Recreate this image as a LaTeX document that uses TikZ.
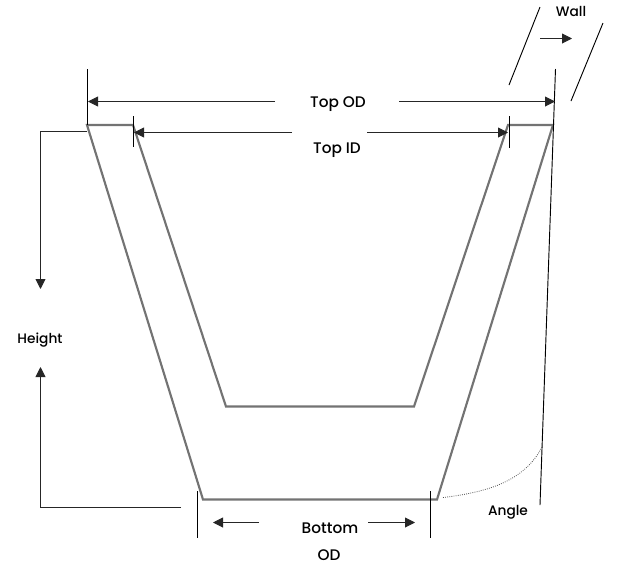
\documentclass[tikz,border=0pt]{standalone}
\usepackage{fontspec}
\setmainfont{Poppins Medium}
\usetikzlibrary{arrows.meta}
\tikzset{
  body/.style={draw=black!55,line width=1.6pt,line join=miter},
  thin line/.style={draw=black,line width=0.7pt},
  dim/.style={draw=black!85,line width=0.7pt,-{Triangle[length=7.5pt,width=7.5pt]}},
  lab/.style={font=\fontsize{11.5}{13}\selectfont,text=black,inner sep=0pt},
  small lab/.style={font=\fontsize{10.3}{12}\selectfont,text=black,inner sep=0pt},
  angle arc/.style={draw=black!70,line width=0.6pt,densely dotted}
}
\begin{document}
\begin{tikzpicture}[x=0.75pt,y=-0.75pt]
\useasboundingbox (0,0) rectangle (629,576);
% body corners
\coordinate (a) at (87,125);
\coordinate (b) at (133,125);
\coordinate (c) at (226,406.5);
\coordinate (d) at (414,406.5);
\coordinate (e) at (508,125);
\coordinate (f) at (553,125);
\coordinate (g) at (437,499.5);
\coordinate (h) at (203,499.5);
\draw[body] (a) -- (b) -- (c) -- (d) -- (e) -- (f) -- (g) -- (h) -- cycle;
% labels
\node[lab] (topod) at (338,104) {Top OD};
\node[lab] (topid) at (337,150.5) {Top ID};
\node[small lab] (height) at (40,340) {Height};
\node[lab] (bottom) at (330,528) {Bottom};
\node[lab] (od) at (329,555) {OD};
\node[small lab] (angle) at (508,512) {Angle};
\node[small lab] (wall) at (571,11) {Wall};
% extension lines
\coordinate (lt) at (87.5,69);
\coordinate (lb) at (87.5,125);
\coordinate (rt) at (555.5,69);
\coordinate (rb) at (540,505);
\draw[thin line] (lt) -- (lb);
\draw[thin line] (rt) -- (rb);
\coordinate (t1a) at (133.5,116); \coordinate (t1b) at (133.5,147);
\coordinate (t2a) at (509,116); \coordinate (t2b) at (509,148);
\draw[thin line] (t1a) -- (t1b);
\draw[thin line] (t2a) -- (t2b);
\coordinate (b1a) at (197,491); \coordinate (b1b) at (197,538);
\coordinate (b2a) at (430.5,491); \coordinate (b2b) at (430.5,538);
\draw[thin line] (b1a) -- (b1b);
\draw[thin line] (b2a) -- (b2b);
% Top OD
\coordinate (od1s) at (275,101.5); \coordinate (od1e) at (88,101.5);
\coordinate (od2s) at (399,101.5); \coordinate (od2e) at (555,101.5);
\draw[dim] (od1s) -- (od1e);
\draw[dim] (od2s) -- (od2e);
% Top ID
\coordinate (id1s) at (292,132.5); \coordinate (id1e) at (134,132.5);
\coordinate (id2s) at (367,132.5); \coordinate (id2e) at (508,132.5);
\draw[dim] (id1s) -- (id1e);
\draw[dim] (id2s) -- (id2e);
% Height
\coordinate (h1s) at (87,131.5); \coordinate (h1m) at (40.5,131.5); \coordinate (h1e) at (40.5,289);
\coordinate (h2s) at (181,507.5); \coordinate (h2m) at (40.5,507.5); \coordinate (h2e) at (40.5,367);
\draw[dim] (h1s) -- (h1m) -- (h1e);
\draw[dim] (h2s) -- (h2m) -- (h2e);
% Bottom OD
\coordinate (bo1s) at (259,522.5); \coordinate (bo1e) at (213,522.5);
\coordinate (bo2s) at (368,522.5); \coordinate (bo2e) at (415,522.5);
\draw[dim] (bo1s) -- (bo1e);
\draw[dim] (bo2s) -- (bo2e);
% Wall
\coordinate (w1a) at (540,7); \coordinate (w1b) at (509,85);
\coordinate (w2a) at (603,23); \coordinate (w2b) at (571,101);
\draw[thin line] (w1a) -- (w1b);
\draw[thin line] (w2a) -- (w2b);
\coordinate (was) at (540,38.5); \coordinate (wae) at (572,38.5);
\draw[dim] (was) -- (wae);
% Angle arc
\coordinate (ar1) at (443,497.5); \coordinate (ar2) at (542,447);
\draw[angle arc] (ar1) .. controls (490,492) and (525,480) .. (ar2);
\end{tikzpicture}
\end{document}
